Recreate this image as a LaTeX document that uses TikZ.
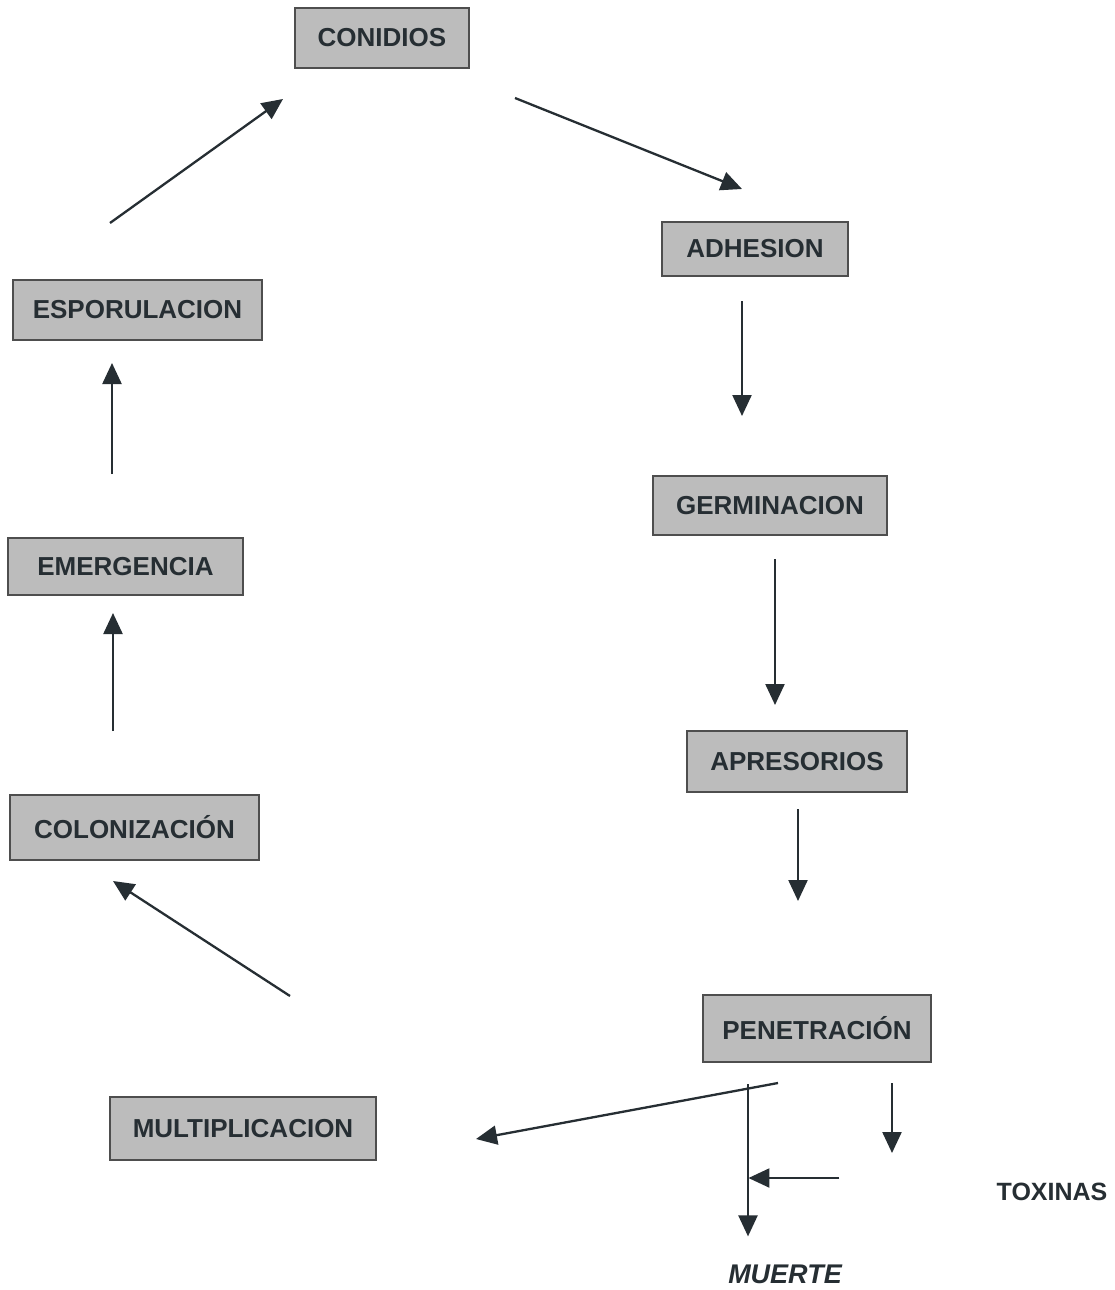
\documentclass[tikz,border=0pt]{standalone}
\usepackage{fontspec}
\setmainfont{Liberation Sans}
\usetikzlibrary{arrows.meta,calc}
\definecolor{boxfill}{HTML}{BCBCBC}
\definecolor{boxline}{HTML}{4E4E4E}
\definecolor{ink}{HTML}{262E33}
\begin{document}
\begin{tikzpicture}[x=1pt,y=-1pt,
  stage/.style={draw=boxline,fill=boxfill,line width=2pt,text=ink,
    font=\fontsize{26}{30}\selectfont\bfseries,inner sep=0pt},
  lbl/.style={text=ink,font=\fontsize{25}{30}\selectfont\bfseries,inner sep=0pt},
  arr/.style={draw=ink,line width=2.3pt,-{Triangle[length=21pt,width=19pt]}},
  ln/.style={draw=ink,line width=2.3pt}]
\useasboundingbox[fill=white] (0,0) rectangle (1115,1290);

\node[stage,minimum width=174pt,minimum height=60pt] (con) at (382,38) {CONIDIOS};
\node[stage,minimum width=186pt,minimum height=54pt] (adh) at (755,249) {ADHESION};
\node[stage,minimum width=249pt,minimum height=60pt] (esp) at (137.5,310) {ESPORULACION};
\node[stage,minimum width=234pt,minimum height=59pt] (ger) at (770,505.5) {GERMINACION};
\node[stage,minimum width=235pt,minimum height=57pt] (eme) at (125.5,566.5) {EMERGENCIA};
\node[stage,minimum width=220pt,minimum height=61pt] (apr) at (797,761.5) {APRESORIOS};
\node[stage,minimum width=249pt,minimum height=65pt] (col) at (134.5,827.5) {COLONIZACIÓN};
\node[stage,minimum width=228pt,minimum height=67pt] (pen) at (817,1028.5) {PENETRACIÓN};
\node[stage,minimum width=266pt,minimum height=63pt] (mul) at (243,1128.5) {MULTIPLICACION};
\node[lbl] (tox) at (1052,1192) {TOXINAS};
\node[lbl,font=\fontsize{27}{30}\selectfont\bfseries\itshape] (mue) at (785,1274) {MUERTE};

% cycle arrows
\draw[arr] ([shift={(-27.5,-56)}]esp.north) -- ([shift={(-99,30)}]con.south);
\draw[arr] ([shift={(45,29)}]con.south east) -- ([shift={(-13,-32)}]adh.north);
\draw[arr] ([shift={(-13,24)}]adh.south) -- ([shift={(-28,-59)}]ger.north);
\draw[arr] ([shift={(5,23)}]ger.south) -- ([shift={(-22,-25)}]apr.north);
\draw[arr] ([shift={(1,16)}]apr.south) -- ([shift={(-19,-93)}]pen.north);
\draw[arr] ([shift={(-39,20)}]pen.south) -- ([shift={(99,10.5)}]mul.east);
\draw[arr] ([shift={(47,-100)}]mul.north) -- ([shift={(-21.5,20)}]col.south);
\draw[arr] ([shift={(-21.5,-63)}]col.north) -- ([shift={(-12.5,17)}]eme.south);
\draw[arr] ([shift={(-13.5,-63)}]eme.north) -- ([shift={(-25.5,22)}]esp.south);
% penetration outcomes
\draw[arr] ([shift={(-69,21)}]pen.south) -- ([shift={(-37,-28)}]mue.north);
\draw[arr] ([shift={(75,20)}]pen.south) -- ([shift={(75,90)}]pen.south);
\draw[arr] ([shift={(-157,-14)}]tox.west) -- ([shift={(-248,-14)}]tox.west);
\end{tikzpicture}
\end{document}
